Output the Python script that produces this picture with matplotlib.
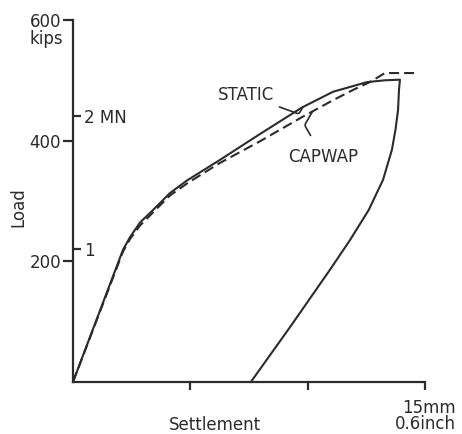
import matplotlib
matplotlib.use("Agg")
import matplotlib.pyplot as plt

# ---- data (settlement in mm, load in kips) ----
static_x = [0.0, 2.13, 2.43, 2.85, 3.41, 4.13, 4.86, 6.26, 7.97, 9.76, 11.08, 12.53, 13.29, 13.93,
            13.89, 13.85, 13.74, 13.59, 13.21, 12.60, 11.80, 10.95, 9.25, 7.58]
static_y = [0, 219, 240, 264, 285, 313, 334, 368, 411, 455, 481, 497, 500, 501,
            484, 451, 418, 385, 335, 285, 235, 186, 91, 0]

capwap_x = [0.0, 2.13, 2.43, 2.85, 3.41, 4.13, 4.86, 6.26, 7.97, 9.76, 11.08, 11.93, 12.65, 13.29, 14.70]
capwap_y = [0, 216, 237, 259, 281, 309, 329, 363, 399, 439, 467, 484, 497, 512, 512]

kips_ticks = [200, 400, 600]
kips_labels = ["200", "400", "600"]
mn_ticks = [1, 2]
mn_labels = ["1", "2 MN"]
kips_per_mn = 220
x_ticks = [5, 10, 15]
x_labels = ["", "", "15mm\n0.6inch"]

ink = "#2b2b2b"
plt.rcParams["font.family"] = ["DejaVu Sans"]

fig = plt.figure(figsize=(4.62, 4.34), dpi=100)
ax = fig.add_axes([0.158, 0.120, 0.762, 0.834])
ax.set_xlim(0, 15)
ax.set_ylim(0, 600)

ax.plot(static_x, static_y, color=ink, lw=1.5, clip_on=False, solid_joinstyle="round")
ax.plot(capwap_x, capwap_y, color=ink, lw=1.5, dashes=(4.8, 2.4), clip_on=False)

for s in ["top", "right"]:
    ax.spines[s].set_visible(False)
for s in ["left", "bottom"]:
    ax.spines[s].set_color(ink)
    ax.spines[s].set_linewidth(1.6)

ax.set_yticks(kips_ticks)
ax.set_yticklabels(kips_labels)
ax.tick_params(axis="y", direction="out", length=7, width=1.6, color=ink,
               labelsize=12, labelcolor=ink, pad=1.5)
ax.set_xticks(x_ticks)
ax.set_xticklabels(x_labels)
ax.tick_params(axis="x", direction="out", length=6, width=1.6, color=ink,
               labelsize=12, labelcolor=ink, pad=6)
for lab in ax.get_xticklabels():
    lab.set_multialignment("right")
    lab.set_linespacing(0.9)

# MN secondary scale drawn on the right side of the load axis
sec = ax.secondary_yaxis(0, functions=(lambda k: k / kips_per_mn, lambda m: m * kips_per_mn))
sec.spines["left"].set_visible(False)
sec.spines["right"].set_visible(False)
sec.yaxis.tick_right()
sec.set_yticks(mn_ticks)
sec.set_yticklabels(mn_labels)
sec.tick_params(axis="y", direction="out", length=6, width=1.6, color=ink,
                labelsize=12, labelcolor=ink, pad=2)

ax.annotate("kips", xy=(0, 600), xycoords=("axes fraction", "data"),
            xytext=(-7, -13.5), textcoords="offset points", ha="right", va="center",
            fontsize=12, color=ink)

ax.set_ylabel("Load", fontsize=12, color=ink)
ax.yaxis.set_label_coords(-0.131, 0.483)
ax.text(0.403, -0.118, "Settlement", transform=ax.transAxes, ha="center", va="center",
        fontsize=12, color=ink)

ax.annotate("STATIC", xy=(9.8, 456), xytext=(7.37, 476), textcoords="data",
            ha="center", va="center", fontsize=12, color=ink,
            arrowprops=dict(arrowstyle="-", color=ink, lw=1.2,
                            connectionstyle="angle,angleA=-20,angleB=60,rad=2",
                            shrinkA=2, shrinkB=0))
ax.annotate("CAPWAP", xy=(10.2, 448), xytext=(10.65, 373), textcoords="data",
            ha="center", va="center", fontsize=12, color=ink,
            arrowprops=dict(arrowstyle="-", color=ink, lw=1.2,
                            connectionstyle="angle,angleA=120,angleB=60,rad=2",
                            shrinkA=8, shrinkB=0))

fig.savefig("out.png", dpi=100)
